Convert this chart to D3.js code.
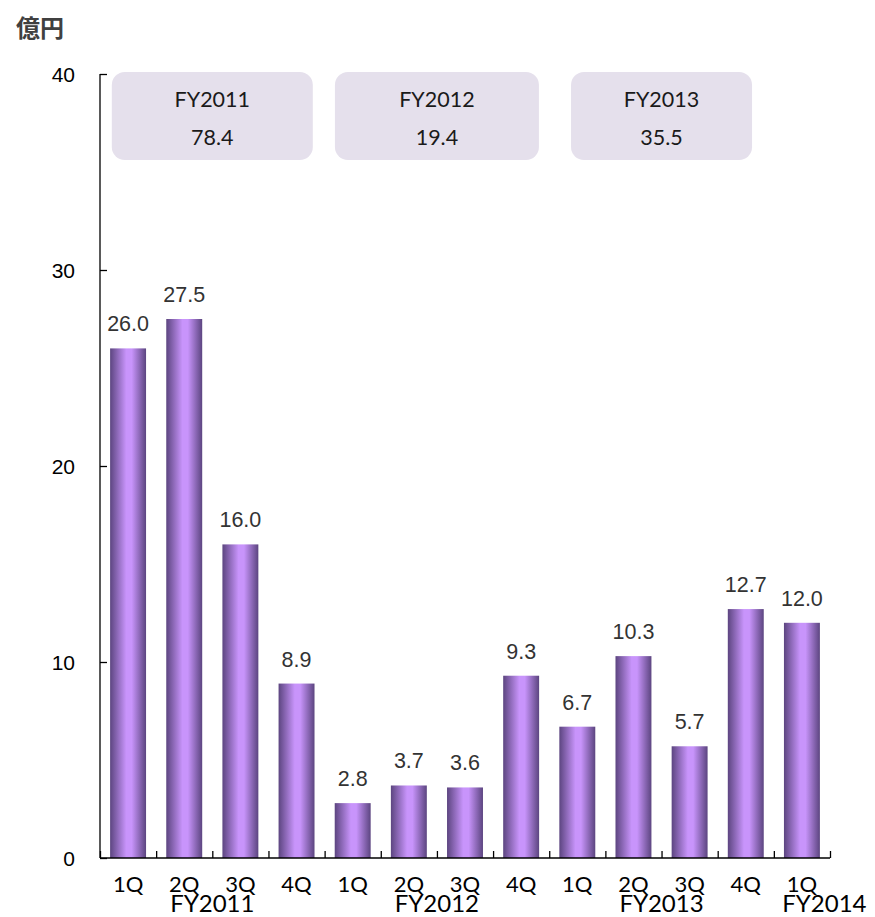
<!DOCTYPE html>
<html><head><meta charset="utf-8">
<script src="https://cdn.jsdelivr.net/npm/d3@7"></script>
<style>body{margin:0;background:#fff}</style>
</head><body>
<script>
const quarters = ["1Q","2Q","3Q","4Q","1Q","2Q","3Q","4Q","1Q","2Q","3Q","4Q","1Q"];
const values = [26.0,27.5,16.0,8.9,2.8,3.7,3.6,9.3,6.7,10.3,5.7,12.7,12.0];
const yTicks = [0,10,20,30,40];
const fyLabels = ["FY2011","FY2012","FY2013","FY2014"];
const fyLabelPos = [2,6,10,12.9]; // position in category units
const boxYears = ["FY2011","FY2012","FY2013"];
const boxTotals = ["78.4","19.4","35.5"];
const boxCenters = [2,6,10];
const boxWidths = [201,204,181];

const W=875,H=917;
const svg=d3.select("body").append("svg").attr("width",W).attr("height",H);
const ids=d3.range(values.length);
const x=d3.scaleBand().domain(ids).range([100,830]).paddingInner(0.36).paddingOuter(0.18);
const xc=d3.scaleLinear().domain([0,values.length]).range([100,830]);
const y=d3.scaleLinear().domain([0,40]).range([858,74]);

const defs=svg.append("defs");
const g=defs.append("linearGradient").attr("id","bg").attr("x1","0").attr("x2","1").attr("y1","0").attr("y2","0");
g.append("stop").attr("offset","0%").attr("stop-color","#5c4580");
g.append("stop").attr("offset","45%").attr("stop-color","#c894fb");
g.append("stop").attr("offset","60%").attr("stop-color","#c894fb");
g.append("stop").attr("offset","100%").attr("stop-color","#5c4580");

const lat="Lato, 'Open Sans', sans-serif", ari="'Liberation Sans', Arial, sans-serif";

// unit label
svg.append("text").attr("x",16).attr("y",37).text("億円")
 .attr("font-family","'Noto Sans CJK JP'").attr("font-weight","bold").attr("font-size",24).attr("fill","#404040");

// boxes
const bx=svg.append("g");
boxYears.forEach((yr,i)=>{
  const cx=xc(boxCenters[i]), w=boxWidths[i];
  bx.append("rect").attr("x",cx-w/2).attr("y",72).attr("width",w).attr("height",88).attr("rx",13).attr("fill","#e5e0ec");
  bx.append("text").attr("x",cx).attr("y",107).attr("text-anchor","middle").text(yr)
    .attr("font-family",lat).attr("font-size",21.5).attr("fill","#1a1a1a");
  bx.append("text").attr("x",cx).attr("y",145).attr("text-anchor","middle").text(boxTotals[i])
    .attr("font-family",lat).attr("font-size",21.5).attr("fill","#1a1a1a");
});

// bars
svg.append("g").selectAll("rect").data(ids).join("rect")
 .attr("x",i=>x(i)).attr("width",x.bandwidth())
 .attr("y",i=>y(values[i])).attr("height",i=>y(0)-y(values[i]))
 .attr("fill","url(#bg)");

// data labels
svg.append("g").selectAll("text").data(ids).join("text")
 .attr("x",i=>x(i)+x.bandwidth()/2).attr("y",i=>y(values[i])-17)
 .attr("text-anchor","middle").text(i=>values[i].toFixed(1))
 .attr("font-family",ari).attr("font-size",21.5).attr("fill","#333");

// y axis
const ya=svg.append("g").attr("transform","translate(100,0)")
 .call(d3.axisRight(y).tickValues(yTicks).tickSize(7).tickFormat(d3.format("d")));
ya.selectAll("text").remove();
ya.selectAll("path,line").attr("stroke","#000").attr("stroke-width",1.3);
ya.select(".domain").attr("d","M0,"+y(40)+"V"+y(0));
svg.append("g").selectAll("text").data(yTicks).join("text")
 .attr("x",75).attr("y",d=>y(d)+7.5).attr("text-anchor","end").text(d=>d)
 .attr("font-family",ari).attr("font-size",21).attr("fill","#000");

// x axis
const xa=svg.append("g").attr("transform","translate(0,"+y(0)+")")
 .call(d3.axisTop(xc).tickValues(d3.range(values.length+1)).tickSize(7).tickFormat(""));
xa.selectAll("path,line").attr("stroke","#000").attr("stroke-width",1.3);
xa.select(".domain").attr("d","M100,0H830");

svg.append("g").selectAll("text").data(ids).join("text")
 .attr("x",i=>x(i)+x.bandwidth()/2).attr("y",892).attr("text-anchor","middle").text(i=>quarters[i])
 .attr("font-family",lat).attr("font-size",22).attr("fill","#000");
svg.append("g").selectAll("text").data(fyLabels).join("text")
 .attr("x",(d,i)=>xc(fyLabelPos[i])).attr("y",912).attr("text-anchor","middle").text(d=>d)
 .attr("font-family",lat).attr("font-size",24).attr("fill","#000");
</script>
</body></html>
